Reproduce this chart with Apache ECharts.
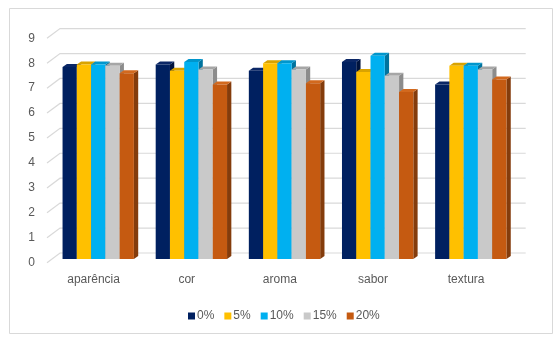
<!DOCTYPE html>
<html><head><meta charset="utf-8">
<script src="https://cdn.jsdelivr.net/npm/echarts@6/dist/echarts.min.js"></script>
<style>html,body{margin:0;padding:0;background:#fff}#c{width:560px;height:340px}</style>
</head><body><div id="c"></div>
<script>
const categories = ['aparência', 'cor', 'aroma', 'sabor', 'textura'];
const seriesNames = ['0%', '5%', '10%', '15%', '20%'];
const s0 = [7.7, 7.8, 7.55, 7.9, 7.0];
const s5 = [7.8, 7.55, 7.85, 7.5, 7.75];
const s10 = [7.8, 7.9, 7.85, 8.15, 7.75];
const s15 = [7.75, 7.6, 7.6, 7.35, 7.6];
const s20 = [7.45, 7.0, 7.05, 6.7, 7.2];
const yTicks = [0, 1, 2, 3, 4, 5, 6, 7, 8, 9];
const values = [s0, s5, s10, s15, s20];

const frontColors = ['#002060', '#FFC000', '#00B0F0', '#C9C9C9', '#C55A11'];
const topColors = ['#0B2766', '#D9A300', '#0096CC', '#A6A6A6', '#D2691E'];
const sideColors = ['#00133D', '#A67C00', '#00739E', '#8C8C8C', '#843C0C'];

const WALL_DX = 13, WALL_DY = -9.7;
const BAR_DX = 4.3, BAR_DY = -3;
const BAR_SHIFT_Y = -3.7;

function wallRender(params, api) {
  const cs = params.coordSys;
  const y = api.coord([0, api.value(1)])[1];
  return {
    type: 'polyline',
    shape: { points: [[cs.x, y], [cs.x + WALL_DX, y + WALL_DY], [cs.x + cs.width + WALL_DX, y + WALL_DY]] },
    style: { stroke: '#D9D9D9', lineWidth: 1.2, fill: null }
  };
}

function barRender(si) {
  return function (params, api) {
    const cat = api.value(0), v = api.value(1);
    const top = api.coord([cat, v]);
    const base = api.coord([cat, 0]);
    const band = api.size([1, 0])[0];
    const bw = band * 0.766 / 5;
    const x0 = top[0] + band * 0.05 + (si - 2.5) * bw;
    const yT = top[1] + BAR_SHIFT_Y, yB = base[1] + BAR_SHIFT_Y;
    return {
      type: 'group',
      children: [
        { type: 'polygon', shape: { points: [[x0 + bw, yT], [x0 + bw + BAR_DX, yT + BAR_DY], [x0 + bw + BAR_DX, yB + BAR_DY], [x0 + bw, yB]] }, style: { fill: sideColors[si] } },
        { type: 'polygon', shape: { points: [[x0, yT], [x0 + BAR_DX, yT + BAR_DY], [x0 + bw + BAR_DX, yT + BAR_DY], [x0 + bw, yT]] }, style: { fill: topColors[si] } },
        { type: 'rect', shape: { x: x0, y: yT, width: bw, height: yB - yT }, style: { fill: frontColors[si] } }
      ]
    };
  };
}

const series = [{
  type: 'custom',
  name: '_wall',
  renderItem: wallRender,
  data: yTicks.map(t => [0, t]),
  encode: { x: 0, y: 1 },
  z: 1,
  silent: true
}];
values.forEach((vals, si) => {
  series.push({
    type: 'custom',
    name: seriesNames[si],
    renderItem: barRender(si),
    data: vals.map((v, i) => [i, v]),
    encode: { x: 0, y: 1 },
    itemStyle: { color: frontColors[si] },
    z: 2
  });
});

const chart = echarts.init(document.getElementById('c'), null, { renderer: 'canvas' });
chart.setOption({
  animation: false,
  backgroundColor: '#fff',
  textStyle: { fontFamily: 'Liberation Sans' },
  graphic: [{
    type: 'rect', shape: { x: 9.5, y: 8.5, width: 543, height: 325 },
    style: { fill: null, stroke: '#D9D9D9', lineWidth: 1 }, silent: true
  }],
  grid: { left: 47, right: 47.3, top: 38.3, bottom: 77.3 },
  xAxis: {
    type: 'category', data: categories,
    axisLine: { show: false }, axisTick: { show: false },
    axisLabel: { color: '#595959', fontSize: 12, margin: 11 },
    splitLine: { show: false }
  },
  yAxis: {
    type: 'value', min: 0, max: 9, interval: 1,
    axisLine: { show: false }, axisTick: { show: false },
    axisLabel: { color: '#595959', fontSize: 12, margin: 12 },
    splitLine: { show: false }
  },
  legend: {
    data: seriesNames, left: 183, top: 305, icon: 'rect',
    itemWidth: 7, itemHeight: 7, itemGap: 10,
    textStyle: { color: '#595959', fontSize: 12, padding: [0, 0, 0, -3] }
  },
  series: series
});
</script></body></html>
